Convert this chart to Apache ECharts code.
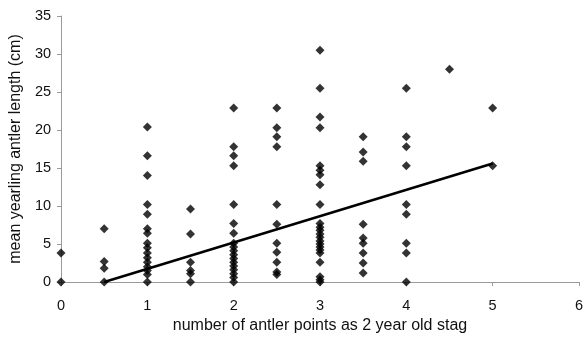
<!DOCTYPE html>
<html>
<head>
<meta charset="utf-8">
<script src="https://cdn.jsdelivr.net/npm/echarts@6/dist/echarts.min.js"></script>
<style>html,body{margin:0;padding:0;background:#fff;}#c{width:586px;height:340px;}</style>
</head>
<body>
<div id="c"></div>
<script>
// x positions (antler points as 2 year old stag)
const xPositions = [0, 0.5, 1, 1.5, 2, 2.5, 3, 3.5, 4, 4.5, 5];
// mean yearling antler length (cm) for each x position
const yAt0 = [3.8, 0];
const yAt05 = [7.0, 2.7, 1.8, 0];
const yAt1 = [20.4, 16.6, 14.0, 10.2, 8.9, 7.0, 6.4, 5.1, 4.5, 3.8, 3.2, 2.6, 2.0, 1.5, 1.0, 0];
const yAt15 = [9.6, 6.3, 2.6, 1.5, 1.1, 0];
const yAt2 = [22.9, 17.8, 16.6, 15.3, 10.2, 7.7, 6.4, 5.1, 4.6, 4.1, 3.6, 3.1, 2.6, 2.1, 1.6, 1.1, 0.6, 0];
const yAt25 = [22.9, 20.3, 19.1, 17.8, 10.2, 7.6, 5.1, 3.9, 2.6, 1.3, 1.0];
const yAt3 = [30.5, 25.5, 21.7, 20.3, 15.3, 14.7, 14.1, 12.8, 10.2, 7.7, 7.2, 6.8, 6.3, 5.9, 5.4, 5.0, 4.6, 4.2, 3.8, 2.6, 0.7, 0.3, 0];
const yAt35 = [19.1, 17.1, 15.9, 7.6, 5.8, 5.1, 3.8, 2.5, 1.2];
const yAt4 = [25.5, 19.1, 17.8, 15.3, 10.2, 8.9, 5.1, 3.8, 0];
const yAt45 = [28.0];
const yAt5 = [22.9, 15.3];
const yColumns = [yAt0, yAt05, yAt1, yAt15, yAt2, yAt25, yAt3, yAt35, yAt4, yAt45, yAt5];
// fitted trend line end points
const trendX = [0.5, 5];
const trendY = [0, 15.6];
const xTicks = [0, 1, 2, 3, 4, 5, 6];
const yTicks = [0, 5, 10, 15, 20, 25, 30, 35];

const scatterData = [];
xPositions.forEach((x, i) => yColumns[i].forEach(y => scatterData.push([x, y])));
const trendData = trendX.map((x, i) => [x, trendY[i]]);

const font = 'Liberation Sans, Arial, sans-serif';
const chart = echarts.init(document.getElementById('c'), null, {renderer: 'canvas'});
chart.setOption({
  animation: false,
  grid: {left: 60, right: 2, top: 16, bottom: 58, containLabel: false},
  xAxis: {
    type: 'value', min: xTicks[0], max: xTicks[xTicks.length - 1], interval: 1,
    axisLine: {lineStyle: {color: '#9a9a9a', width: 1}},
    axisTick: {show: true, length: 4, lineStyle: {color: '#9a9a9a'}},
    splitLine: {show: false},
    axisLabel: {color: '#111', fontSize: 14.5, fontFamily: font, margin: 16},
    name: 'number of antler points as 2 year old stag',
    nameLocation: 'middle', nameGap: 36,
    nameTextStyle: {color: '#111', fontSize: 16, fontFamily: font}
  },
  yAxis: {
    type: 'value', min: yTicks[0], max: yTicks[yTicks.length - 1], interval: 5,
    axisLine: {show: true, lineStyle: {color: '#9a9a9a', width: 1}},
    axisTick: {show: true, length: 4, lineStyle: {color: '#9a9a9a'}},
    splitLine: {show: false},
    axisLabel: {color: '#111', fontSize: 14.5, fontFamily: font, margin: 10},
    name: 'mean yearling antler length (cm)',
    nameLocation: 'middle', nameGap: 35, nameRotate: 90,
    nameTextStyle: {color: '#111', fontSize: 16, fontFamily: font}
  },
  series: [
    {
      type: 'line', data: trendData, symbol: 'none', z: 3,
      lineStyle: {color: '#000', width: 2.5}
    },
    {
      type: 'scatter', data: scatterData, symbol: 'diamond', symbolSize: 9, z: 4,
      itemStyle: {color: '#000'}
    }
  ]
});
</script>
</body>
</html>
